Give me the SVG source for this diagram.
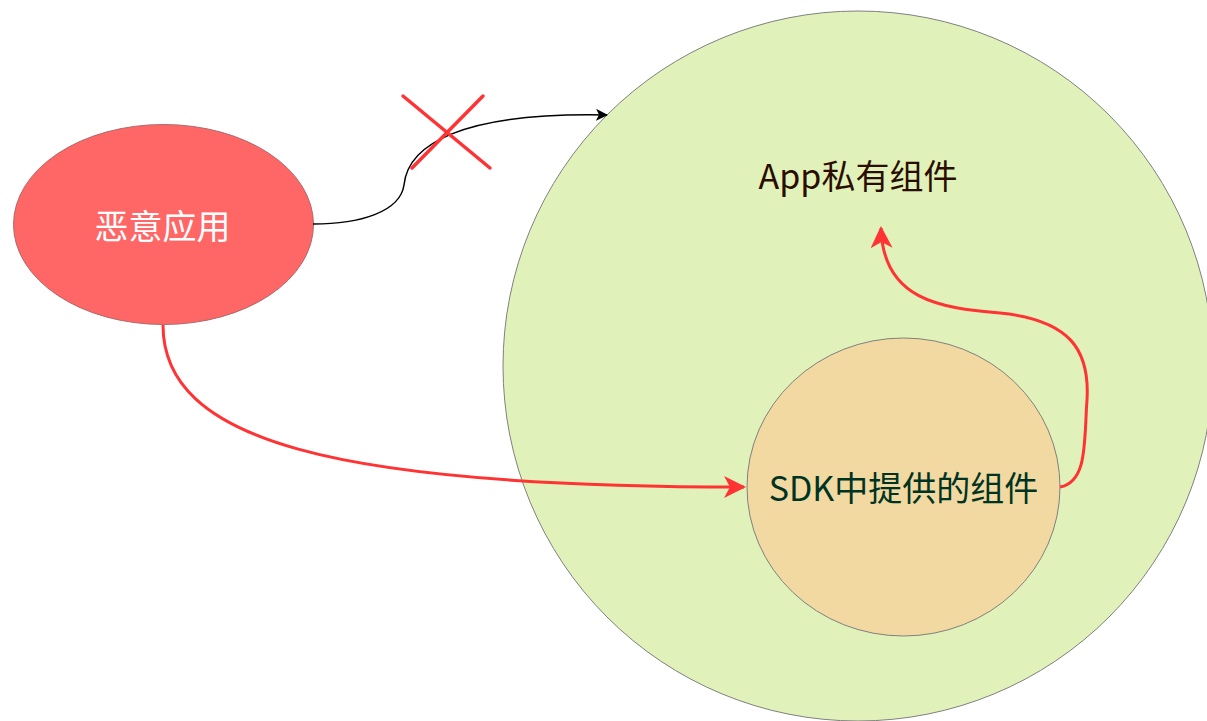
<svg xmlns="http://www.w3.org/2000/svg" width="1207" height="721" viewBox="0 0 1207 721">
<style>
.lbl{font-family:"Noto Sans CJK SC","Noto Sans",sans-serif;font-size:34px;text-anchor:middle}
.red{fill:none;stroke:#ff3333;stroke-width:3}
</style>
<defs>
<marker id="ra" viewBox="0 0 22 22" refX="20" refY="11" markerWidth="22" markerHeight="22" markerUnits="userSpaceOnUse" orient="auto">
<path d="M0,0 L22,11 L0,22 L6,11 Z" fill="#ff3333"/>
</marker>
<marker id="ba" viewBox="0 0 12 12" refX="11" refY="6" markerWidth="12" markerHeight="12" markerUnits="userSpaceOnUse" orient="auto">
<path d="M0,0 L12,6 L0,12 L3,6 Z" fill="#000"/>
</marker>
</defs>
<rect width="1207" height="721" fill="#fff"/>
<g id="app">
<circle cx="858" cy="366" r="355" fill="#e0f2b9" stroke="#808080" stroke-width="1"/>
<text class="lbl" x="858" y="189" fill="#2b0d00">App私有组件</text>
</g>
<g id="sdk">
<ellipse cx="903.5" cy="487" rx="156.5" ry="149" fill="#f1d9a1" stroke="#808080" stroke-width="1"/>
<text class="lbl" x="903.5" y="501" fill="#003322">SDK中提供的组件</text>
</g>
<g id="malicious">
<ellipse cx="163.5" cy="224.5" rx="150" ry="100" fill="#ff6666" stroke="#b0676a" stroke-width="1"/>
<text class="lbl" x="162.5" y="239" fill="#ffffff">恶意应用</text>
</g>
<g id="connectors">
<path d="M313,224 C360,224 400,212 404,185 C408,145 460,112 607,115" fill="none" stroke="#000" stroke-width="1.5" marker-end="url(#ba)"/>
<path class="red" d="M163,325 C163,440 330,487 744,487" marker-end="url(#ra)"/>
<path class="red" d="M1060,487 C1088,482 1084,440 1087,400 C1090,350 1070,320 1000,313 C940,308 883,300 881,228" marker-end="url(#ra)" />
<g id="cross" stroke="#ff3333" stroke-width="3.5" stroke-linecap="round">
<line x1="403" y1="96" x2="490" y2="168"/>
<line x1="483" y1="96" x2="412" y2="168"/>
</g>
</g>
</svg>
